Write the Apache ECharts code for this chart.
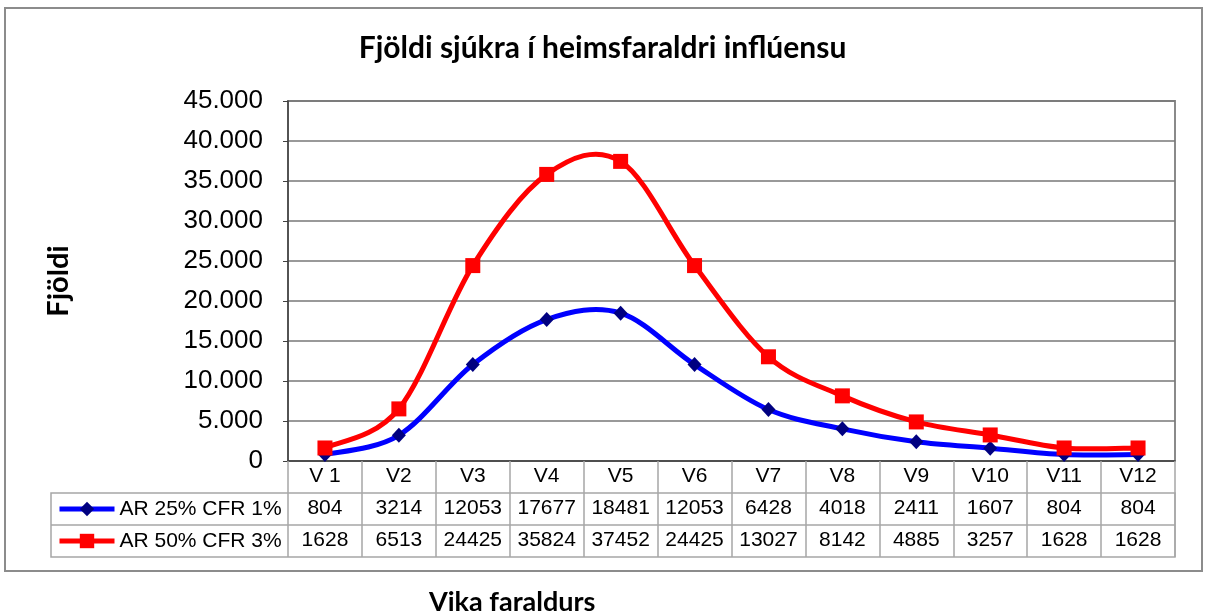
<!DOCTYPE html>
<html>
<head>
<meta charset="utf-8">
<script src="https://cdn.jsdelivr.net/npm/echarts@6/dist/echarts.min.js"></script>
<style>
  html, body { margin: 0; padding: 0; background: #fff; }
  #chart { width: 1205px; height: 612px; }
</style>
</head>
<body>
<div id="chart"></div>
<script>
// categories (weeks of the epidemic)
const weeks = ["V 1", "V2", "V3", "V4", "V5", "V6", "V7", "V8", "V9", "V10", "V11", "V12"];
// number sick per week
const ar25cfr1 = [804, 3214, 12053, 17677, 18481, 12053, 6428, 4018, 2411, 1607, 804, 804];
const ar50cfr3 = [1628, 6513, 24425, 35824, 37452, 24425, 13027, 8142, 4885, 3257, 1628, 1628];
const seriesNames = ["AR 25% CFR 1%", "AR 50% CFR 3%"];
const yMax = 45000;
const yStep = 5000;

// plot area + data table layout (pixels)
const plotLeft = 288, plotRight = 1175, plotTop = 101, plotBottom = 461;
const rowH = 32;
const tableLeft = 51;
const tableFont = "'Liberation Sans', Arial, sans-serif";
const headFont = "Lato, 'Open Sans', sans-serif";

// 45000 -> "45.000"
const fmtDot = (v) => String(v).replace(/\B(?=(\d{3})+(?!\d))/g, ".");

const chart = echarts.init(document.getElementById("chart"));

const valueRowAxis = (values, row) => ({
  type: "category",
  gridIndex: 0,
  position: "bottom",
  offset: rowH * row,
  data: values.map(String),
  axisLine: { show: false },
  axisTick: { show: false },
  splitLine: { show: false },
  axisLabel: {
    interval: 0,
    margin: 5,
    color: "#000",
    fontSize: 21,
    fontFamily: tableFont,
  },
});

// Excel-style smoothed line: catmull-rom segments through the data points
const curveSeries = (name, values, color, z) => ({
  name: name,
  type: "custom",
  z: z,
  silent: true,
  data: values.map((v, i) => [i, v]),
  renderItem: (params, api) => {
    const i = params.dataIndex;
    const n = values.length;
    if (i >= n - 1) return null;
    const pt = (j) => {
      const k = Math.max(0, Math.min(n - 1, j));
      return api.coord([k, values[k]]);
    };
    const p0 = pt(i - 1), p1 = pt(i), p2 = pt(i + 1), p3 = pt(i + 2);
    return {
      type: "bezierCurve",
      shape: {
        x1: p1[0], y1: p1[1],
        x2: p2[0], y2: p2[1],
        cpx1: p1[0] + (p2[0] - p0[0]) / 6, cpy1: p1[1] + (p2[1] - p0[1]) / 6,
        cpx2: p2[0] - (p3[0] - p1[0]) / 6, cpy2: p2[1] - (p3[1] - p1[1]) / 6,
      },
      style: { fill: null, stroke: color, lineWidth: 5, lineCap: "round" },
    };
  },
});

const option = {
  backgroundColor: "#fff",
  animation: false,
  title: [
    {
      text: "Fjöldi sjúkra í heimsfaraldri inflúensu",
      left: "center",
      top: 28,
      textStyle: { fontFamily: headFont, fontWeight: "bold", fontSize: 30, color: "#000" },
    },
    {
      text: "Vika faraldurs",
      left: 424,
      top: 584,
      textStyle: { fontFamily: headFont, fontWeight: "bold", fontSize: 27, color: "#000" },
    },
  ],
  legend: {
    orient: "vertical",
    left: tableLeft + 6,
    top: plotBottom + rowH + 5,
    padding: 0,
    itemWidth: 55,
    itemHeight: 18,
    itemGap: 10,
    lineStyle: { opacity: 1, width: 5 },
    textStyle: { fontFamily: tableFont, fontSize: 21, color: "#000", lineHeight: 22 },
    data: seriesNames,
  },
  grid: {
    left: plotLeft,
    top: plotTop,
    width: plotRight - plotLeft,
    height: plotBottom - plotTop,
    show: true,
    borderColor: "#8a8a8a",
    borderWidth: 2,
  },
  xAxis: [
    {
      type: "category",
      data: weeks,
      boundaryGap: true,
      axisLine: { lineStyle: { color: "#404040", width: 1.5 } },
      // ticks extended down through the data table = column separators
      axisTick: { show: true, interval: 0, length: rowH * 3, lineStyle: { color: "#a6a6a6", width: 1.5 } },
      axisLabel: {
        interval: 0,
        margin: 5,
        color: "#000",
        fontSize: 21,
        fontFamily: tableFont,
      },
    },
    valueRowAxis(ar25cfr1, 1),
    valueRowAxis(ar50cfr3, 2),
  ],
  yAxis: {
    type: "value",
    min: 0,
    max: yMax,
    interval: yStep,
    name: "Fjöldi",
    nameLocation: "middle",
    nameGap: 215,
    nameTextStyle: { fontFamily: headFont, fontWeight: "bold", fontSize: 29, color: "#000" },
    axisLine: { show: true, lineStyle: { color: "#404040", width: 1.5 } },
    axisTick: { show: true, length: 5, lineStyle: { color: "#404040" } },
    axisLabel: {
      margin: 25,
      color: "#000",
      fontSize: 26,
      fontFamily: tableFont,
      formatter: fmtDot,
    },
    splitLine: { lineStyle: { color: "#777", width: 1.5 } },
  },
  series: [
    curveSeries("curve 1", ar25cfr1, "#0000ff", 2),
    {
      name: seriesNames[0],
      type: "line",
      z: 3,
      data: ar25cfr1,
      symbol: "diamond",
      symbolSize: [14, 15],
      lineStyle: { color: "#0000ff", width: 5, opacity: 0 },
      itemStyle: { color: "#000080" },
    },
    curveSeries("curve 2", ar50cfr3, "#ff0000", 4),
    {
      name: seriesNames[1],
      type: "line",
      z: 5,
      data: ar50cfr3,
      symbol: "rect",
      symbolSize: 15,
      lineStyle: { color: "#ff0000", width: 5, opacity: 0 },
      itemStyle: { color: "#ff0000" },
    },
  ],
  graphic: [
    // outer chart frame
    {
      type: "rect",
      silent: true,
      shape: { x: 5, y: 8, width: 1197, height: 563 },
      style: { fill: null, stroke: "#8c8c8c", lineWidth: 2 },
    },
    // data-table horizontal rules + legend column box
    {
      type: "rect",
      silent: true,
      shape: { x: tableLeft, y: plotBottom + rowH, width: plotRight - tableLeft, height: rowH * 2 },
      style: { fill: null, stroke: "#a6a6a6", lineWidth: 1.5 },
    },
    {
      type: "line",
      silent: true,
      shape: { x1: tableLeft, y1: plotBottom + rowH * 2, x2: plotRight, y2: plotBottom + rowH * 2 },
      style: { stroke: "#a6a6a6", lineWidth: 1.5 },
    },
  ],
};

chart.setOption(option);
</script>
</body>
</html>
